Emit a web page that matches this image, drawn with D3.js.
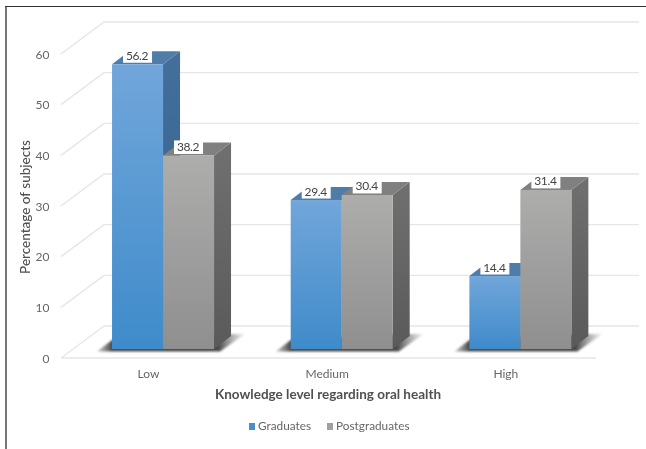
<!DOCTYPE html>
<html lang="en">
<head>
  <meta charset="UTF-8" />
  <title>Knowledge level regarding oral health</title>
  <style>
    html, body { margin: 0; padding: 0; background: #fff; }
    svg { display: block; font-family: Lato, "Open Sans", sans-serif; filter: blur(0.5px); }
    .grid { stroke: #e6e6e6; stroke-width: 1.4px; fill: none; }
    .tick-label { fill: #666; font-size: 12px; }
    .value-label { fill: #444; font-size: 12px; letter-spacing: -0.35px; text-anchor: middle; }
    .axis-title { fill: #505050; font-size: 13.5px; font-weight: 700; }
    .legend-label { fill: #666; font-size: 11.8px; }
  </style>
</head>
<body>
  <svg id="chart" width="646" height="449"></svg>
  <script src="https://d3js.org/d3.v7.min.js"></script>
  <script>
    const categories = ["Low", "Medium", "High"];
    const seriesNames = ["Graduates", "Postgraduates"];
    const graduates = [56.2, 29.4, 14.4];
    const postgraduates = [38.2, 30.4, 31.4];
    const yTicks = [0, 10, 20, 30, 40, 50, 60];

    const svg = d3.select("#chart");

    // 3d offsets: wall is 43px right / 32px up of the front edge, bars 17 / 13
    const wallDx = 43, wallDy = -32;
    const barDx = 17, barDy = -13;

    const y = d3.scaleLinear().domain([0, 60]).range([358, 54]);
    const yBar = d3.scaleLinear().domain([0, 60]).range([349, 45]);
    const x = d3.scaleBand().domain(categories).range([72.7, 608.7]).paddingInner(0);
    const barW = 51;
    const barX = (cat, s) => x(cat) + x.bandwidth() / 2 - barW + 1 + s * barW;

    const defs = svg.append("defs");
    function grad(id, top, bottom) {
      const g = defs.append("linearGradient").attr("id", id)
        .attr("x1", 0).attr("y1", 0).attr("x2", 0).attr("y2", 1);
      g.append("stop").attr("offset", 0).attr("stop-color", top);
      g.append("stop").attr("offset", 1).attr("stop-color", bottom);
    }
    grad("blueFront", "#71a6da", "#3f8bca");
    grad("grayFront", "#adadac", "#8f8f8f");
    grad("blueSide", "#446f9b", "#2f5f90");
    grad("graySide", "#707070", "#5a5a5a");

    defs.append("filter").attr("id", "soft")
      .attr("x", "-10%").attr("y", "-30%").attr("width", "120%").attr("height", "160%")
      .append("feGaussianBlur").attr("stdDeviation", 0.9);

    // frame
    svg.append("line").attr("x1", 6).attr("x2", 6).attr("y1", 6).attr("y2", 449)
      .attr("stroke", "#777").attr("stroke-width", 2);
    svg.append("line").attr("x1", 5).attr("x2", 646).attr("y1", 6.5).attr("y2", 6.5)
      .attr("stroke", "#333").attr("stroke-width", 1.2);

    // gridlines on side wall and back wall
    svg.selectAll(".grid").data(yTicks).enter().append("path")
      .attr("class", "grid")
      .attr("d", d => {
        const p = d3.path();
        p.moveTo(61, y(d));
        p.lineTo(61 + wallDx, y(d) + wallDy);
        if (d > 0) p.lineTo(639, y(d) + wallDy);
        return p.toString();
      });
    svg.append("line").attr("class", "grid")
      .attr("x1", 61).attr("x2", 596).attr("y1", y(0)).attr("y2", y(0));
    svg.append("line").attr("class", "grid")
      .attr("x1", 61 + wallDx).attr("x2", 639).attr("y1", y(0) + wallDy).attr("y2", y(0) + wallDy);

    svg.selectAll(".tick-label").data(yTicks).enter().append("text")
      .attr("class", "tick-label")
      .attr("x", 49.5).attr("y", d => y(d) + 4.5)
      .attr("text-anchor", "end")
      .text(d => d);

    // floor shadow below each pair of bars
    categories.forEach(cat => {
      const left = barX(cat, 0), right = barX(cat, 1) + barW;
      const base = yBar(0);
      const shadow = defs.append("linearGradient")
        .attr("id", "shadow" + cat)
        .attr("gradientUnits", "userSpaceOnUse")
        .attr("x1", left - 15).attr("x2", right + 31).attr("y1", 0).attr("y2", 0);
      shadow.append("stop").attr("offset", 0).attr("stop-color", "#777").attr("stop-opacity", 0.4);
      shadow.append("stop").attr("offset", 0.1).attr("stop-color", "#4a4a4a");
      shadow.append("stop").attr("offset", 0.82).attr("stop-color", "#4a4a4a");
      shadow.append("stop").attr("offset", 1).attr("stop-color", "#999").attr("stop-opacity", 0.15);
      svg.append("path")
        .attr("d", d3.line()([
          [left - 15, base + 2.5],
          [left, base - 9],
          [right + barDx, base + barDy - 2],
          [right + 31, base + barDy - 2],
          [right + 6, base + 2.5]
        ]) + "Z")
        .attr("fill", "url(#shadow" + cat + ")")
        .attr("filter", "url(#soft)");
    });

    const colors = [
      { front: "url(#blueFront)", side: "url(#blueSide)", top: "#4f7ca9" },
      { front: "url(#grayFront)", side: "url(#graySide)", top: "#808080" }
    ];

    // side + top + front of a bar
    function drawBar(cat, s, v) {
      const g = svg.append("g");
      const l = barX(cat, s), r = l + barW, t = yBar(v), b = yBar(0);
      const c = colors[s];
      g.append("path").attr("fill", c.side)
        .attr("d", d3.line()([[r, t], [r + barDx, t + barDy], [r + barDx, b + barDy], [r, b]]) + "Z");
      g.append("path").attr("fill", c.top)
        .attr("d", d3.line()([[l, t], [l + barDx, t + barDy], [r + barDx, t + barDy], [r, t]]) + "Z");
      g.append("rect").attr("x", l).attr("y", t).attr("width", barW).attr("height", b - t)
        .attr("fill", c.front);
    }

    function drawLabel(cat, s, v) {
      const l = barX(cat, s), t = yBar(v);
      const cx = l + 25.5;
      svg.append("rect").attr("x", cx - 14.5).attr("y", t - 15)
        .attr("width", 29).attr("height", 13.5).attr("fill", "#fff");
      svg.append("text").attr("class", "value-label")
        .attr("x", cx - 0.5).attr("y", t - 4.5)
        .text(v.toFixed(1));
    }

    categories.forEach((cat, i) => {
      drawBar(cat, 0, graduates[i]);
      drawBar(cat, 1, postgraduates[i]);
    });
    categories.forEach((cat, i) => {
      drawLabel(cat, 0, graduates[i]);
      drawLabel(cat, 1, postgraduates[i]);
    });

    // category labels
    svg.selectAll(".cat-label").data(categories).enter().append("text")
      .attr("class", "tick-label cat-label")
      .attr("x", d => barX(d, 1) - 14.5)
      .attr("y", 378)
      .attr("text-anchor", "middle")
      .text(d => d);

    svg.append("text").attr("class", "axis-title")
      .attr("x", 328).attr("y", 399).attr("text-anchor", "middle")
      .text("Knowledge level regarding oral health");

    svg.append("text").attr("class", "axis-title")
      .attr("transform", "translate(30,207) rotate(-90)")
      .attr("text-anchor", "middle")
      .style("font-weight", 500)
      .text("Percentage of subjects");

    // legend
    const legendX = [249, 327];
    const legendColor = ["#4a8fcb", "#a0a0a0"];
    seriesNames.forEach((name, i) => {
      svg.append("rect").attr("x", legendX[i]).attr("y", 423)
        .attr("width", 6).attr("height", 7).attr("fill", legendColor[i]);
      svg.append("text").attr("class", "legend-label")
        .attr("x", legendX[i] + 9).attr("y", 430).text(name);
    });
  </script>
</body>
</html>
